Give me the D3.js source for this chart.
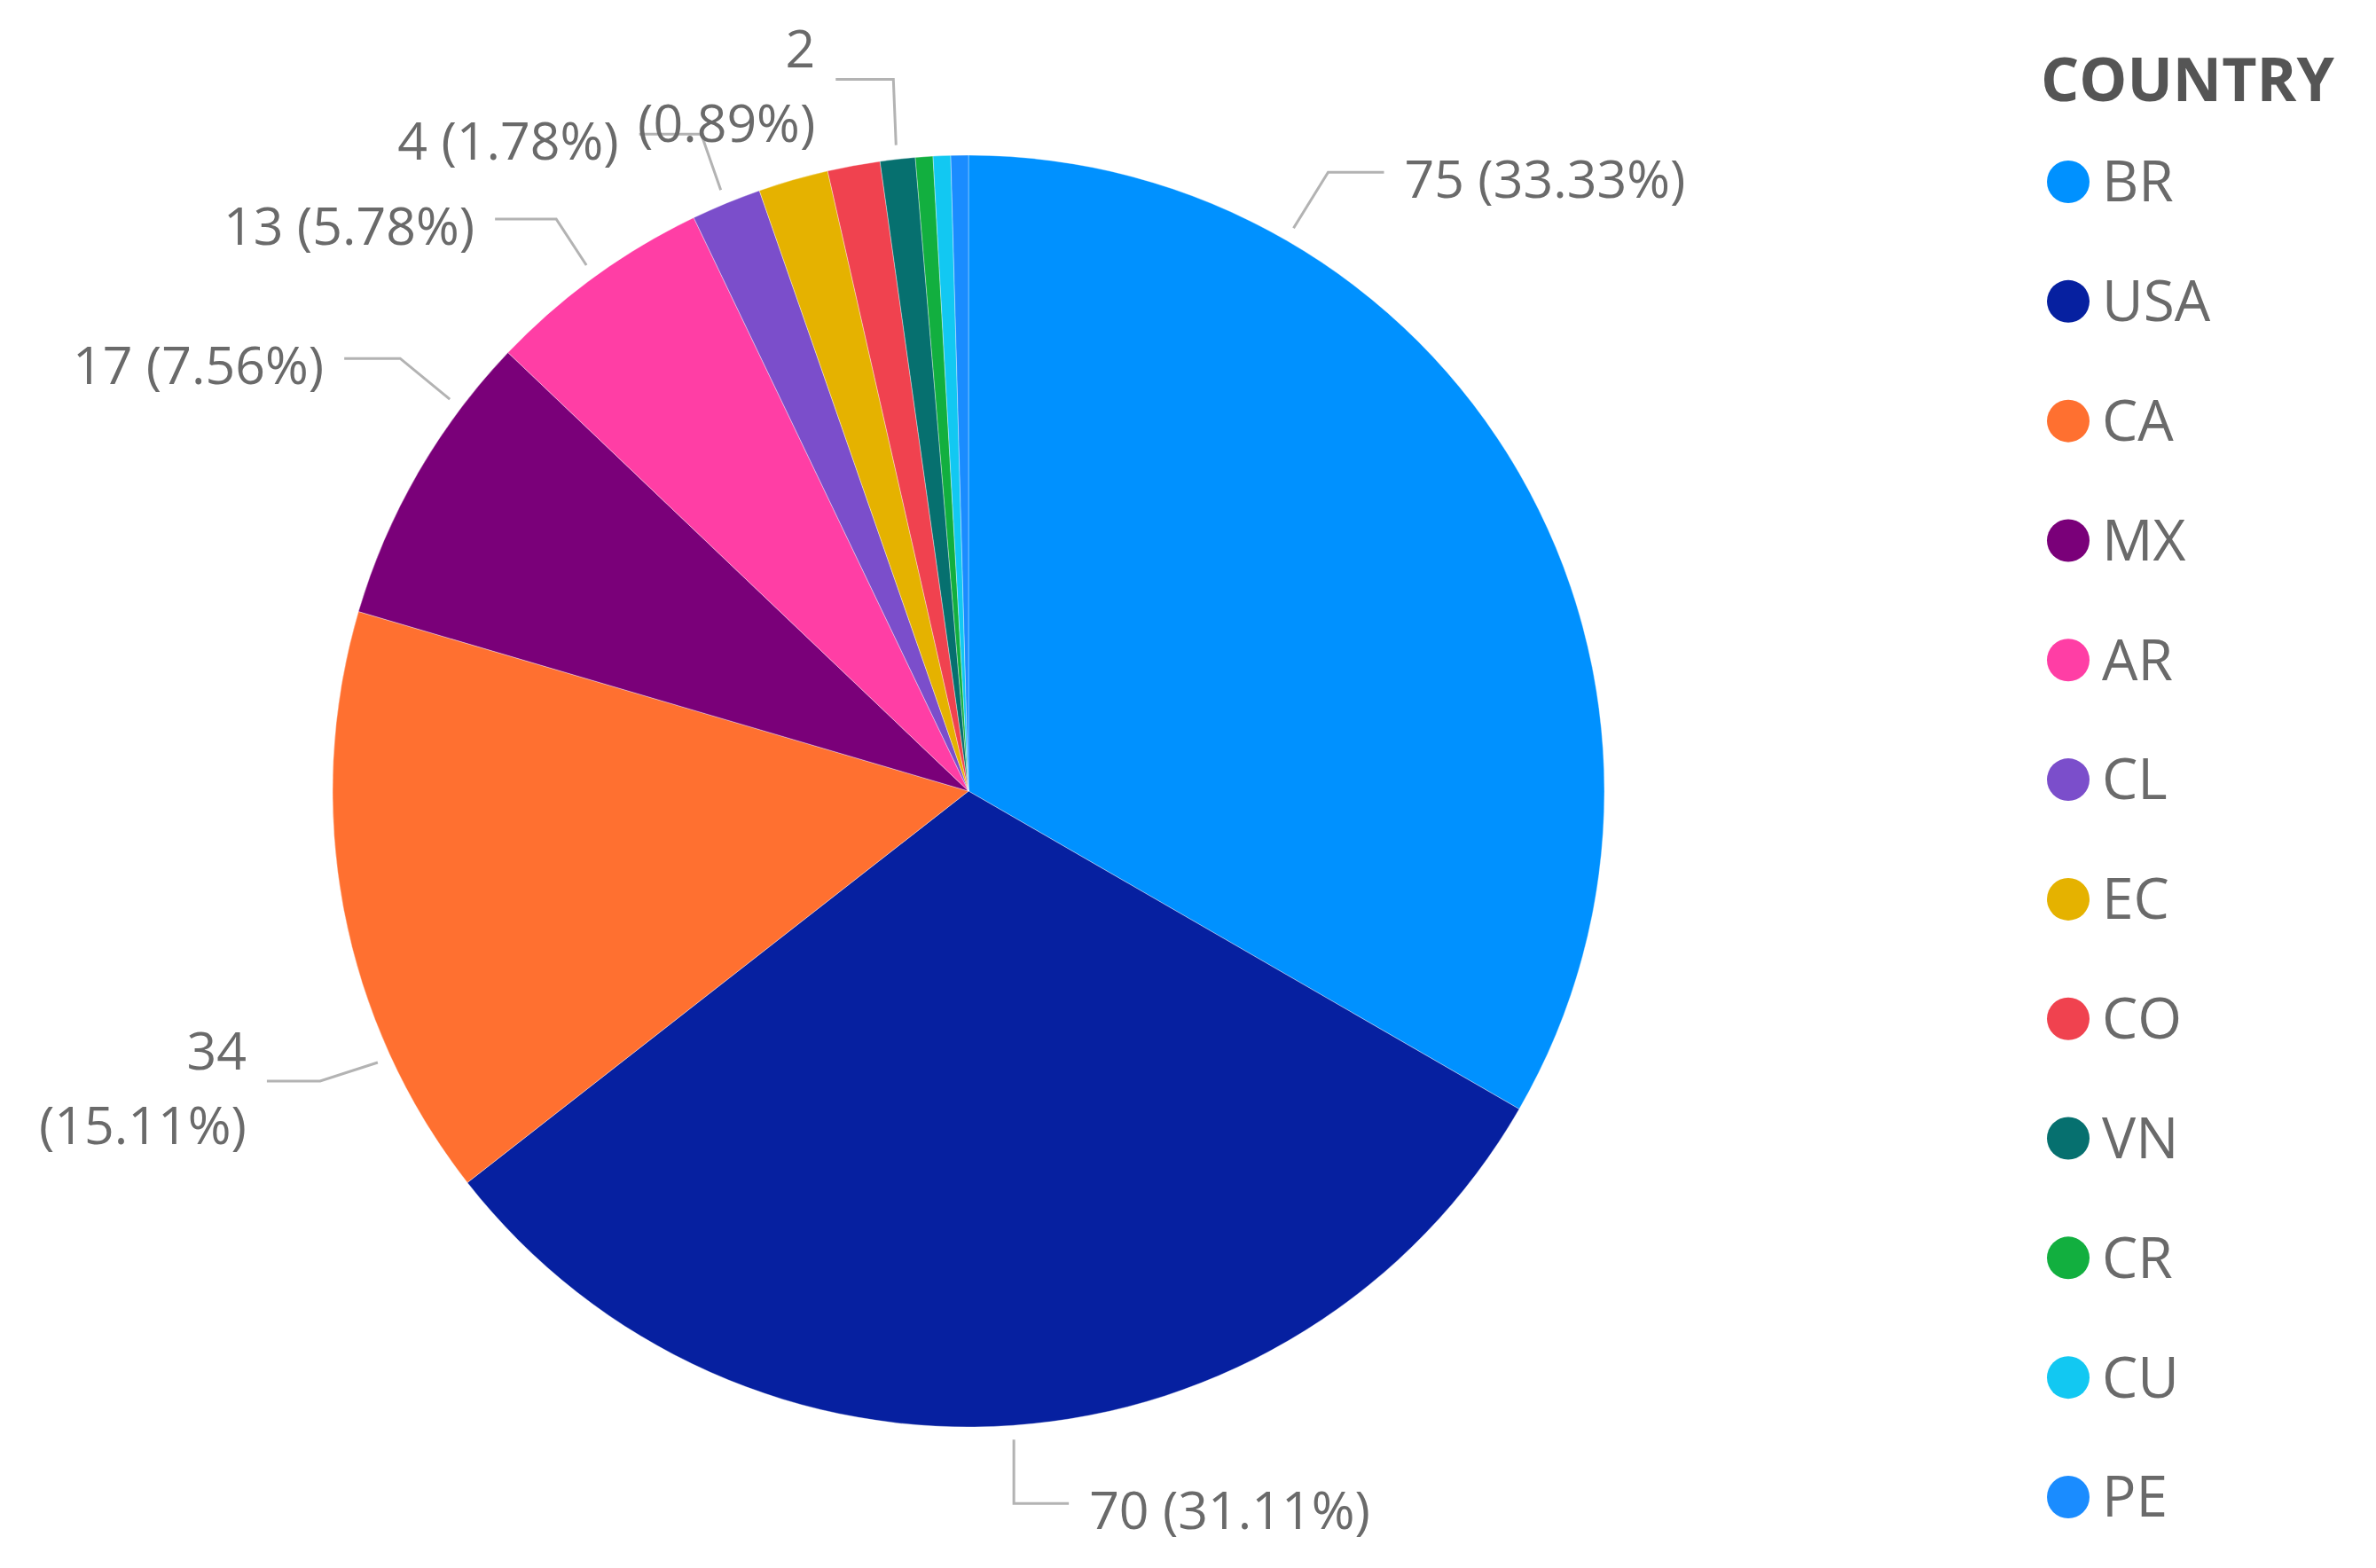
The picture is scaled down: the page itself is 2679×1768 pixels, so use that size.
<!DOCTYPE html>
<html><head><meta charset="utf-8">
<script src="https://cdn.jsdelivr.net/npm/d3@7"></script>
<style>body{margin:0;background:#fff}</style>
</head><body>
<svg id="chart" width="2679" height="1768"></svg>
<script>
// ---- data ----
const countries = ["BR","USA","CA","MX","AR","CL","EC","CO","VN","CR","CU","PE"];
const values    = [75,70,34,17,13,4,4,3,2,1,1,1];
const colors    = ["#0091FF","#0620A0","#FF7030","#7A0079","#FF3EA5","#7B4ECB","#E5B200","#F0424F","#06706F","#12AF3F","#12C8F2","#1A8CFF"];
const legendTitle = "COUNTRY";

// which slices carry a data label (others hidden as in the source), and how the leaders run
const labeled      = ["BR","USA","CA","MX","AR","CL","VN"];
const labelFrac    = [0.25,0.5,0.245,0.76,0.5,0.5,0.5];
const labelWrap    = [false,false,true,false,false,false,true];
const leaderElbow  = [[39,-63],[0,72],[-65,21],[-56,-46],[-34,-52],[-22,-63],[-3,-74]];
const leaderRun    = [63,62,-60,-63,-69,-70,-65];

// ---- chart ----
const cx = 1092, cy = 892, R = 717;
const svg = d3.select("#chart");
const total = d3.sum(values);
const data = countries.map((c,i)=>({country:c, value:values[i]}));
const color = d3.scaleOrdinal().domain(countries).range(colors);

const pie = d3.pie().sort(null).value(d=>d.value).startAngle(0).endAngle(2*Math.PI);
const arcs = pie(data);
const arc = d3.arc().innerRadius(0).outerRadius(R);

const g = svg.append("g").attr("transform",`translate(${cx},${cy})`);
g.selectAll("path.slice").data(arcs).join("path")
  .attr("class","slice")
  .attr("d",arc)
  .attr("fill",d=>color(d.data.country))
  .attr("stroke","rgba(255,255,255,0.35)")
  .attr("stroke-width",1);

const labelFont = "'Open Sans', 'Segoe UI', sans-serif";
labeled.forEach((c,i)=>{
  const a = arcs.find(d=>d.data.country===c);
  const ang = a.startAngle + labelFrac[i]*(a.endAngle-a.startAngle);
  const rr = R + 16;
  const p0 = [Math.sin(ang)*rr, -Math.cos(ang)*rr];
  const p1 = [p0[0]+leaderElbow[i][0], p0[1]+leaderElbow[i][1]];
  const p2 = [p1[0]+leaderRun[i], p1[1]];
  g.append("path")
    .attr("d", d3.line()([p0,p1,p2]))
    .attr("fill","none").attr("stroke","#B3B3B3").attr("stroke-width",3);
  const right = leaderRun[i] > 0;
  const tx = p2[0] + (right ? 23 : -23);
  const pct = (a.data.value/total*100).toFixed(2) + "%";
  const lines = labelWrap[i] ? [String(a.data.value), "(" + pct + ")"] : [a.data.value + " (" + pct + ")"];
  const lh = 84;
  const y0 = p1[1] + 8 - (lines.length-1)*lh/2;
  lines.forEach((t,k)=>{
    g.append("text")
      .attr("x", tx).attr("y", y0 + k*lh)
      .attr("dy","0.35em")
      .attr("text-anchor", right ? "start" : "end")
      .attr("font-family", labelFont)
      .attr("font-size", 59)
      .attr("fill","#6A6A6A")
      .text(t);
  });
});

// ---- legend ----
const ly = d3.scalePoint().domain(countries).range([205,1688]);
svg.append("text")
  .attr("x",2301).attr("y",114)
  .attr("font-family",labelFont).attr("font-weight","bold")
  .attr("font-size",68).attr("fill","#555555")
  .text(legendTitle);
const leg = svg.append("g");
const items = leg.selectAll("g").data(countries).join("g")
  .attr("transform",d=>`translate(2332,${ly(d)})`);
items.append("circle").attr("r",24).attr("fill",d=>color(d));
items.append("text")
  .attr("x",38).attr("dy","0.35em")
  .attr("font-family",labelFont).attr("font-size",64)
  .attr("fill","#6A6A6A")
  .text(d=>d);
</script>
</body></html>
